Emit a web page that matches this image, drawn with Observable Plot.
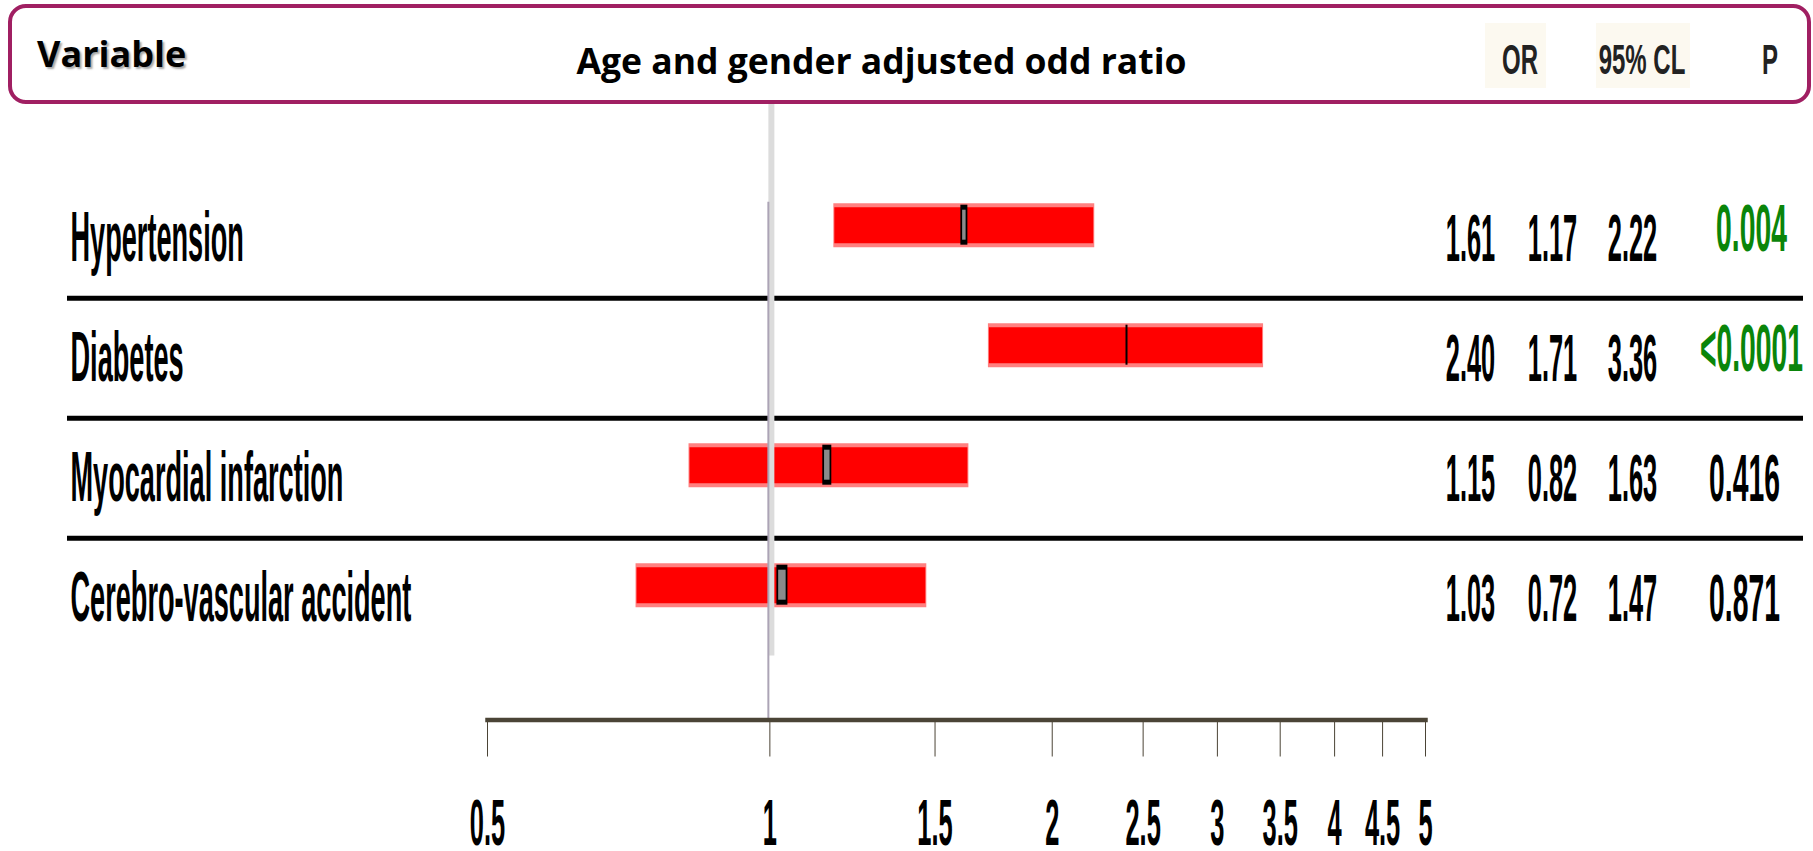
<!DOCTYPE html>
<html>
<head>
<meta charset="utf-8">
<script src="https://cdn.jsdelivr.net/npm/d3@7"></script>
<script src="https://cdn.jsdelivr.net/npm/@observablehq/plot@0.6"></script>
<style>
  body { margin: 0; background: #fff; width: 1813px; height: 851px; overflow: hidden; }
  #header { position: relative; height: 100px; z-index: 2; }
  #header .box { position: absolute; left: 8px; top: 4px; width: 1803px; height: 100px; box-sizing: border-box;
                 border: 4.5px solid #a01f62; border-radius: 18px; }
  .hd { position: absolute; white-space: nowrap; line-height: 1; }
  .bold { font-family: "Open Sans", sans-serif; font-weight: 700; color: #000; }
  .narrow { font-family: "Liberation Sans", Arial, sans-serif; font-weight: 700; color: #222; }
  .cell { position: absolute; background: #fcf9f0; top: 23px; height: 65px; }
  #chart { position: relative; z-index: 1; }
</style>
</head>
<body>
<div id="header"><div class="box"></div></div>
<div id="chart"></div>
<script>
// ---- data ----
const variables = ["Hypertension", "Diabetes", "Myocardial infarction", "Cerebro-vascular accident"];
const oddsRatio = [1.61, 2.40, 1.15, 1.03];
const ciLower   = [1.17, 1.71, 0.82, 0.72];
const ciUpper   = [2.22, 3.36, 1.63, 1.47];
const pValues   = ["0.004", "<0.0001", "0.416", "0.871"];
const xTicks    = [0.5, 1, 1.5, 2, 2.5, 3, 3.5, 4, 4.5, 5];

const headerVariable = "Variable";
const headerTitle = "Age and gender adjusted odd ratio";
const columnHeads = ["OR", "95% CL", "P"];

// ---- header band ----
const header = document.getElementById("header");
function headText(text, cls, left, top, transform, extra = {}) {
  const el = document.createElement("div");
  el.className = "hd " + cls;
  el.textContent = text;
  Object.assign(el.style, {left: left + "px", top: top + "px", transform}, extra);
  header.appendChild(el);
  return el;
}
// cream cells behind the column headings
[[1485, 61], [1596, 94]].forEach(([l, w]) => {
  const c = document.createElement("div");
  c.className = "cell";
  c.style.left = l + "px";
  c.style.width = w + "px";
  header.insertBefore(c, header.firstChild);
});
headText(headerVariable, "bold", 37, 54, "translateY(-50%)",
  {fontSize: "36px", textShadow: "2px 2px 2px rgba(0,0,0,0.35)"});
headText(headerTitle, "bold", 881.5, 60.5, "translate(-50%,-50%)", {fontSize: "35.5px"});
[1520, 1641.5, 1770].forEach((cx, k) =>
  headText(columnHeads[k], "narrow", cx, 60, "translate(-50%,-50%) scale(0.8,1.4)", {fontSize: "30px"}));

// ---- forest plot ----
const rows = variables.map((name, i) => ({
  name, i,
  or: oddsRatio[i], lo: ciLower[i], hi: ciUpper[i],
  p: pValues[i],
  sig: parseFloat(pValues[i].replace("<", "")) < 0.05
}));

const FONT = '"Liberation Sans", Arial, sans-serif';
const boxWidth = [7, 2, 9, 11]; // width of the point-estimate box in each row (px)
const cell = {frameAnchor: "right", textAnchor: "middle", lineAnchor: "middle", fontFamily: FONT, fontWeight: "bold"};

const chart = Plot.plot({
  width: 1813,
  height: 751,
  marginLeft: 487,
  marginRight: 388,
  marginTop: 0,
  marginBottom: 131.5,
  style: {background: "transparent", color: "#4b4436", overflow: "visible"},
  x: {type: "log", domain: [0.5, 5], ticks: xTicks, tickSize: 37, tickFormat: () => "", label: null},
  y: {domain: [0, 3], range: [124.7, 484.7], axis: null},
  marks: [
    // row separators
    Plot.ruleY(rows.slice(1), {y: d => d.i - 0.5, dy: 13, stroke: "#000", strokeWidth: 5,
      insetLeft: -420, insetRight: -378}),
    // confidence-interval bars
    Plot.ruleY(rows, {x1: "lo", x2: "hi", y: "i", stroke: "#ff8080", strokeWidth: 44}),
    Plot.ruleY(rows, {x1: "lo", x2: "hi", y: "i", stroke: "#ff0000", strokeWidth: 36, insetLeft: 1, insetRight: 1}),
    // point estimates
    Plot.ruleX(rows, {x: "or", y1: "i", y2: "i", insetTop: -20, insetBottom: -20,
      stroke: "#000", strokeWidth: d => boxWidth[d.i]}),
    Plot.ruleX(rows.filter(d => boxWidth[d.i] > 4), {x: "or", y1: "i", y2: "i", insetTop: -15, insetBottom: -15,
      stroke: "#8a8a8a", strokeWidth: d => boxWidth[d.i] - 3.5}),
    // line of no effect
    Plot.ruleX([1], {stroke: "#dcdcdc", strokeWidth: 6, dx: 1.5, insetBottom: 64}),
    Plot.ruleX([1], {stroke: "#aca4b6", strokeWidth: 2, dx: -1.5, insetTop: 101.7}),
    // axis baseline
    Plot.frame({anchor: "bottom", stroke: "#4b4436", strokeWidth: 4.5}),
    // tick labels
    Plot.text(xTicks, {x: d => d, frameAnchor: "bottom", textAnchor: "middle", lineAnchor: "middle", dy: 104,
      text: d => String(d), fontSize: 31, fontFamily: FONT, fontWeight: "bold", fill: "#000"}),
    // variable names
    Plot.text(rows, {y: "i", text: "name", frameAnchor: "left", textAnchor: "start", lineAnchor: "middle",
      dx: -417, dy: 13.4, fontSize: 35.7, fontFamily: FONT, fontWeight: "bold", fill: "#000"}),
    // OR and 95% CL columns
    Plot.text(rows, {...cell, y: "i", text: d => d.or.toFixed(2), dx: 45, dy: 14.1, fontSize: 31, fill: "#000"}),
    Plot.text(rows, {...cell, y: "i", text: d => d.lo.toFixed(2), dx: 127, dy: 14.1, fontSize: 31, fill: "#000"}),
    Plot.text(rows, {...cell, y: "i", text: d => d.hi.toFixed(2), dx: 207, dy: 14.1, fontSize: 31, fill: "#000"}),
    // P values
    Plot.text(rows.filter(d => d.sig), {...cell, y: "i", text: "p", dx: 326, dy: 3.6, fontSize: 34.5, fill: "#0a850a"}),
    Plot.text(rows.filter(d => !d.sig), {...cell, y: "i", text: "p", dx: 319, dy: 13.8, fontSize: 34.5, fill: "#000"})
  ]
});

document.getElementById("chart").appendChild(chart);

// tall, condensed lettering: each label is squeezed horizontally and stretched vertically
// about its own anchor point (left edge or centre, vertical middle)
const SVGNS = "http://www.w3.org/2000/svg";
function stretch(group, sx, sy, anchor) {
  group.querySelectorAll("text").forEach(t => {
    const w = document.createElementNS(SVGNS, "g");
    t.parentNode.insertBefore(w, t);
    w.appendChild(t);
    const bb = w.getBBox();
    const ax = anchor === "start" ? bb.x : bb.x + bb.width / 2;
    const ay = bb.y + bb.height / 2;
    w.setAttribute("transform", `translate(${ax},${ay}) scale(${sx},${sy}) translate(${-ax},${-ay})`);
  });
}
// text marks in drawing order: tick labels, names, OR, lower CL, upper CL, P (significant), P (other)
const squeeze = [
  [0.82, 2.1, "middle"],
  [0.76, 1.95, "start"],
  [0.82, 2.16, "middle"],
  [0.82, 2.16, "middle"],
  [0.82, 2.16, "middle"],
  [0.82, 1.94, "middle"],
  [0.82, 1.94, "middle"]
];
chart.querySelectorAll('g[aria-label="text"]').forEach((g, k) => {
  const [sx, sy, anchor] = squeeze[k] ?? [0.82, 2, "middle"];
  stretch(g, sx, sy, anchor);
});
</script>
</body>
</html>
